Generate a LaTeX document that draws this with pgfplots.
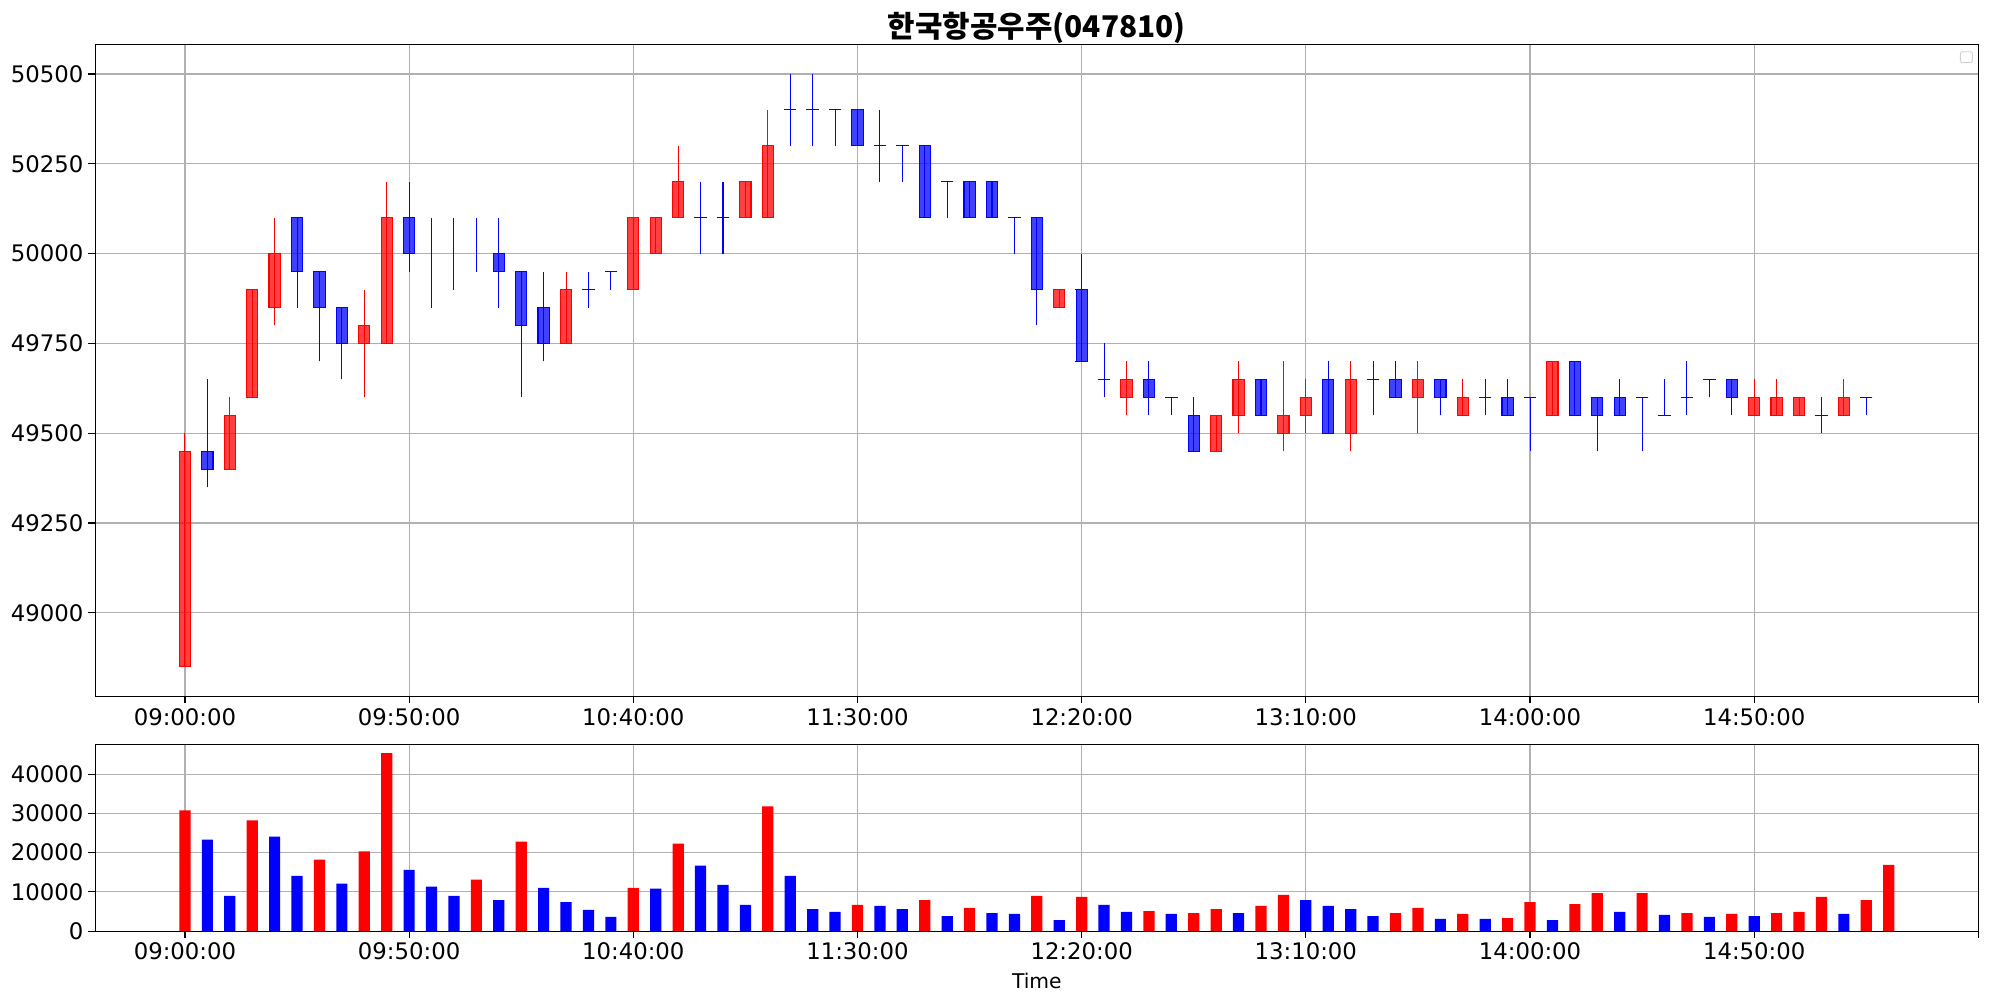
\documentclass[border=0pt]{standalone}
\usepackage{fontspec}
\setmainfont{DejaVu Sans}
\newfontfamily\cjk{Noto Sans CJK KR}
\usepackage{pgfplots}
\usepackage{pgfplotstable}
\pgfplotsset{compat=1.18}

\definecolor{upedge}{RGB}{255,0,0}
\definecolor{dnedge}{RGB}{0,0,255}
\definecolor{gridgray}{RGB}{176,176,176}

% 5-minute candles, x = index from 09:00 (step 5 min)
\pgfplotstableread{
x o h l c
0 48850 49500 48850 49450
2 49400 49600 49400 49550
3 49600 49900 49600 49900
4 49850 50100 49800 50000
8 49750 49900 49600 49800
9 49750 50200 49750 50100
17 49750 49950 49750 49900
20 49900 50100 49900 50100
21 50000 50100 50000 50100
22 50100 50300 50100 50200
25 50100 50200 50100 50200
26 50100 50400 50100 50300
39 49850 49900 49850 49900
42 49600 49700 49550 49650
46 49450 49550 49450 49550
47 49550 49700 49500 49650
49 49500 49700 49450 49550
50 49550 49650 49500 49600
52 49500 49700 49450 49650
55 49600 49700 49500 49650
57 49550 49650 49550 49600
61 49550 49700 49550 49700
70 49550 49650 49550 49600
71 49550 49650 49550 49600
72 49550 49600 49550 49600
74 49550 49650 49550 49600
}\upcandles

\pgfplotstableread{
x o h l c
1 49450 49650 49350 49400
5 50100 50100 49850 49950
6 49950 49950 49700 49850
7 49850 49850 49650 49750
10 50100 50200 49950 50000
14 50000 50100 49850 49950
15 49950 49950 49600 49800
16 49850 49950 49700 49750
18 49900 49950 49850 49900
19 49950 49950 49900 49950
23 50100 50200 50000 50100
24 50100 50200 50000 50100
27 50400 50500 50300 50400
28 50400 50500 50300 50400
29 50400 50400 50300 50400
30 50400 50400 50300 50300
31 50300 50400 50200 50300
32 50300 50300 50200 50300
33 50300 50300 50100 50100
34 50200 50200 50100 50200
35 50200 50200 50100 50100
36 50200 50200 50100 50100
37 50100 50100 50000 50100
38 50100 50100 49800 49900
40 49900 50000 49700 49700
41 49650 49750 49600 49650
43 49650 49700 49550 49600
44 49600 49600 49550 49600
45 49550 49600 49450 49450
48 49650 49650 49550 49550
51 49650 49700 49500 49500
53 49650 49700 49550 49650
54 49650 49700 49600 49600
56 49650 49650 49550 49600
58 49600 49650 49550 49600
59 49600 49650 49550 49550
60 49600 49600 49450 49600
62 49700 49700 49550 49550
63 49600 49600 49450 49550
64 49600 49650 49550 49550
65 49600 49600 49450 49600
66 49550 49650 49550 49550
67 49600 49700 49550 49600
68 49650 49650 49600 49650
69 49650 49650 49550 49600
73 49550 49600 49500 49550
75 49600 49600 49550 49600
}\dncandles

\pgfplotstableread{
x h l
11 50100 49850
12 50100 49900
13 50100 49950
}\dnwicks

\pgfplotstableread{
x v
0 30800
3 28200
6 18200
8 20300
9 45400
13 13100
15 22800
20 11000
22 22300
26 31800
30 6700
33 7900
35 5900
38 9000
40 8700
43 5100
45 4600
46 5600
48 6400
49 9200
54 4600
55 5900
57 4400
59 3300
60 7400
62 6900
63 9700
65 9700
67 4600
69 4400
71 4600
72 4900
73 8700
75 7900
76 16900
}\upvol

\pgfplotstableread{
x v
1 23300
2 9000
4 24100
5 14100
7 12100
10 15600
11 11300
12 9000
14 7900
16 11000
17 7400
18 5400
19 3600
21 10800
23 16700
24 11800
25 6700
27 14100
28 5600
29 4900
31 6400
32 5600
34 3800
36 4600
37 4400
39 2800
41 6700
42 4900
44 4400
47 4600
50 7900
51 6400
52 5600
53 3800
56 3100
58 3100
61 2800
64 4900
66 4100
68 3600
70 3800
74 4400
}\dnvol

\pgfplotsset{
  chart/.style={
    scale only axis, width=1355.9pt, anchor=south west,
    xmin=-4, xmax=80,
    xtick={0,10,...,80},
    xticklabels={09:00:00,09:50:00,10:40:00,11:30:00,12:20:00,13:10:00,14:00:00,14:50:00,{}},
    xtick pos=left, ytick pos=left,
    tick align=outside, major tick length=5pt,
    tick style={black, line width=0.8pt},
    axis line style={line width=0.8pt},
    grid=major, grid style={gridgray, line width=0.8pt},
    tick label style={font=\fontsize{16.4}{19}\selectfont},
    scaled y ticks=false,
    yticklabel style={/pgf/number format/.cd, fixed, 1000 sep={}},
    /pgf/number format/assume math mode=true,
  },
  % a plot that only draws its error bars
  bars only/.style={only marks, mark=*, mark size=0pt, mark options={draw=none, fill=none}},
}

% body (translucent), side and top/bottom edges, then wick
\newcommand{\drawcandles}[2]{%
  \addplot[bars only, error bars/.cd, y dir=plus, y explicit, error mark=none,
    error bar style={line width=8.1pt, draw=#2, draw opacity=0.75}]
    table[x=x, y expr={min(\thisrow{o},\thisrow{c})}, y error expr={abs(\thisrow{c}-\thisrow{o})}] {#1};
  \addplot[bars only, error bars/.cd, y dir=plus, y explicit, error mark=none,
    error bar style={line width=0.8pt, draw=#2}]
    table[x expr={\thisrow{x}-0.25}, y expr={min(\thisrow{o},\thisrow{c})}, y error expr={abs(\thisrow{c}-\thisrow{o})}] {#1};
  \addplot[bars only, error bars/.cd, y dir=plus, y explicit, error mark=none,
    error bar style={line width=0.8pt, draw=#2}]
    table[x expr={\thisrow{x}+0.25}, y expr={min(\thisrow{o},\thisrow{c})}, y error expr={abs(\thisrow{c}-\thisrow{o})}] {#1};
  \addplot[only marks, mark=-, mark size=4.45pt, mark options={draw=#2, line width=0.8pt}]
    table[x=x, y=o] {#1};
  \addplot[only marks, mark=-, mark size=4.45pt, mark options={draw=#2, line width=0.8pt}]
    table[x=x, y=c] {#1};
  \addplot[bars only, error bars/.cd, y dir=plus, y explicit, error mark=none,
    error bar style={line width=0.75pt, draw=#2}]
    table[x=x, y=l, y error expr={\thisrow{h}-\thisrow{l}}] {#1};
}

\begin{document}
\begin{tikzpicture}
\useasboundingbox (0,0) rectangle (1432.08pt,718.56pt);

\begin{axis}[chart, at={(68.6pt,217.2pt)}, height=469.4pt,
  ymin=48767.5, ymax=50582.5, ytick={49000,49250,...,50500}]
  \drawcandles{\upcandles}{upedge}
  \drawcandles{\dncandles}{dnedge}
  \addplot[bars only, error bars/.cd, y dir=plus, y explicit, error mark=none,
    error bar style={line width=0.75pt, draw=dnedge}]
    table[x=x, y=l, y error expr={\thisrow{h}-\thisrow{l}}] {\dnwicks};
  % empty legend frame
  \draw[gridgray!60, line width=0.7pt, rounded corners=1.5pt]
    ([xshift=-4.3pt, yshift=-5.3pt]rel axis cs:1,1) rectangle ++(-8.6pt,-7.9pt);
\end{axis}

\begin{axis}[chart, at={(68.6pt,48.2pt)}, height=134.4pt,
  ymin=0, ymax=47600, ytick={0,10000,...,40000},
  xlabel={Time},
  every axis x label/.style={at={(axis description cs:0.5,0)}, anchor=base, yshift=-41pt,
    font=\fontsize{14.6}{17}\selectfont}]
  \addplot[ybar, bar width=0.5, fill=red, draw=none] table[x=x, y=v] {\upvol};
  \addplot[ybar, bar width=0.5, fill=blue, draw=none] table[x=x, y=v] {\dnvol};
\end{axis}

\node[anchor=base, font=\cjk\bfseries\fontsize{21.5}{25}\selectfont]
  at (746.5pt,691.2pt) {한국항공우주(047810)};
\end{tikzpicture}
\end{document}
